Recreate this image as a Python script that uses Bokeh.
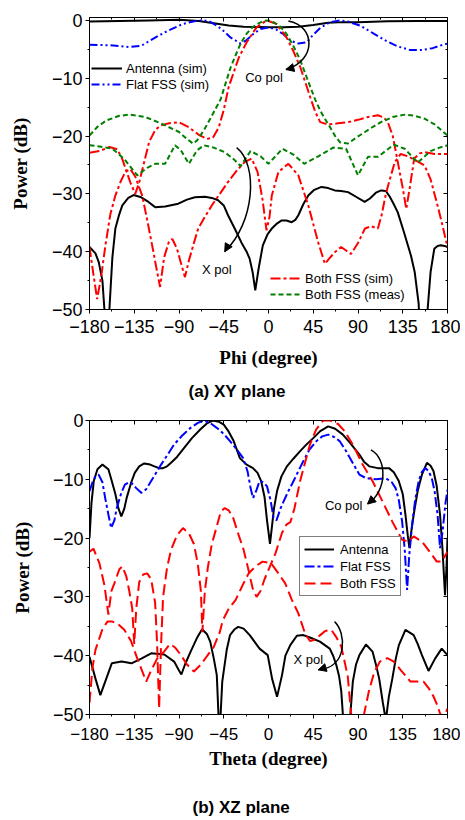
from bokeh.plotting import figure
from bokeh.models import (Range1d, FixedTicker, LinearAxis, Legend, LegendItem,
                          Title, Label, Arrow, NormalHead)
from bokeh.layouts import column
from bokeh.embed import file_html
from bokeh.resources import INLINE

# ---------------- shared ticks ----------------
angle_ticks = [-180, -135, -90, -45, 0, 45, 90, 135, 180]
angle_tick_labels = ["\u2212180", "\u2212135", "\u221290", "\u221245", "0", "45", "90", "135", "180"]
angle_minor = [-157.5, -112.5, -67.5, -22.5, 22.5, 67.5, 112.5, 157.5]
power_ticks = [-50, -40, -30, -20, -10, 0]
power_tick_labels = ["\u221250", "\u221240", "\u221230", "\u221220", "\u221210", "0"]
power_minor = [-45, -35, -25, -15, -5]

# ---------------- (a) XY plane ----------------
phi_ant_co_x = [-180, -150, -120, -90, -70, -55, -40, -25, -10, 0, 15, 30, 45, 60, 75, 90, 120, 150, 180]
phi_ant_co_y = [-0.2, -0.1, 0.0, 0.1, -0.1, -0.5, -0.9, -1.1, -1.15, -1.2, -1.2, -1.1, -0.8, -0.4, -0.3, -0.3, -0.15, -0.1, -0.1]

phi_flat_co_x = [-180, -160, -140, -128, -120, -110, -100, -86, -70, -60, -52, -46, -38, -28, -22, -15, -8, 0, 8, 15,
                 22, 30, 38, 45, 52, 62, 72, 80, 92, 105, 118, 130, 142, 155, 165, 172, 180]
phi_flat_co_y = [-4.2, -4.3, -4.6, -4.4, -3.6, -2.6, -1.7, -0.6, 0.0, -0.1, -0.9, -1.7, -3.0, -4.0, -3.4, -2.3, -1.5, -1.2, -1.6, -2.4,
                 -3.5, -4.0, -3.8, -2.5, -1.3, -0.3, 0.0, -0.2, -0.9, -2.2, -3.5, -4.5, -5.1, -5.1, -4.8, -4.4, -4.0]

phi_both_co_x = [-180, -170, -160, -152, -147, -143, -139, -134, -130, -125, -120, -114, -109, -100, -90, -80, -70, -62, -56, -50,
                 -45, -40, -35, -30, -22, -12, -2, 8, 18, 25, 32, 42, 47, 52, 60, 70, 80, 90, 100, 110,
                 116, 120, 125, 130, 135, 138.5, 142, 146.5, 152, 157, 167, 180]
phi_both_co_y = [-22.9, -22.6, -21.9, -22.3, -24, -26, -28, -30, -28, -24.5, -21, -19, -18.2, -17.8, -17.6, -18.5, -19.8, -20.5, -20.3, -18.5,
                 -15.5, -11.5, -9, -6.5, -3.8, -1.2, 0, -0.6, -2.9, -5.3, -8.1, -13.3, -15.8, -17.6, -18, -17.8, -17.6, -17.2, -16.7, -16.4,
                 -16.8, -17.6, -20, -24.5, -29, -32.6, -29, -23.9, -23, -22.8, -23.1, -23.1]

phi_both_x_x = [-180, -176, -172.3, -168, -164, -159, -154, -149, -144, -139, -134, -127, -122, -117, -112, -109, -105, -100, -96.7, -92,
                -88, -84, -80, -75, -70.7, -64, -57, -49, -41, -32, -24, -17, -11, -6, -2, 1, 3.3, 10, 20, 30,
                40, 50, 56.7, 62, 66.7, 73, 78, 83, 90, 97, 103, 110, 114, 118, 122, 127, 133, 140, 148, 157,
                163, 170, 175, 180]
phi_both_x_y = [-39.2, -44, -48.2, -44, -38.9, -33.5, -30.3, -28, -26.2, -25.7, -27, -30.3, -34.5, -38.9, -43.5, -46.1, -41, -38.2, -37.8, -39.5,
                -42, -44.4, -41.5, -38.5, -36, -34, -32, -30, -28, -26, -24.5, -23.9, -26.2, -31, -36.3, -34, -30.3, -26.2, -24.8, -26.8,
                -32, -38.4, -42.1, -41, -40.1, -39.2, -39.8, -40.4, -38.5, -36, -35.6, -36, -33.5, -30, -27.5, -24.5, -23.1, -23.5, -24.2, -25.1,
                -27.5, -32, -35.5, -39.2]

phi_meas_co_x = [-180, -172, -163, -150, -140, -124, -107, -90, -82, -76, -72, -68, -64, -56, -48, -43, -38, -33, -28, -22,
                 -16, -10, -5, 0, 6, 12, 18, 25, 32, 37, 42, 47, 52, 57, 62, 67, 72, 80, 88, 97,
                 105, 113, 125, 137, 147, 157, 167, 174, 180]
phi_meas_co_y = [-19.9, -18.4, -17.3, -16.5, -16.3, -16.7, -17.9, -19.3, -20.5, -21.3, -20.8, -19.8, -18.7, -16.2, -13.6, -10.8, -8.1, -6, -4, -2.3,
                 -1.15, -0.5, -0.1, 0, -0.4, -1.1, -2.3, -4.4, -6.9, -9.2, -11.5, -13.7, -15.6, -17.1, -18.5, -20, -21.1, -21.3, -20.3, -19.3,
                 -18.4, -17.6, -16.7, -16.3, -16.5, -17, -18, -19, -19.9]

phi_meas_x_x = [-180, -170, -157, -145, -132, -122, -114, -104, -94, -88, -80, -72, -65, -55, -44, -35, -28, -18, -8, 0,
                7, 14, 25, 36, 50, 65, 78, 90, 100, 110, 126, 137, 150, 163, 172, 180]
phi_meas_x_y = [-21.6, -21.8, -22.2, -24, -26.8, -25.5, -24.8, -24.8, -21.6, -22.5, -24.8, -22.5, -21.6, -22, -22.8, -24, -25.2, -22.6, -23.5, -24.8,
                -23.5, -22.2, -23.2, -24.8, -23.5, -22, -22.2, -26.8, -23.6, -23.6, -21.5, -22.2, -24.6, -22.6, -22, -21.6]

phi_ant_x_x = [-180, -174, -170.7, -167, -165, -164, -161, -160, -157, -154, -150, -147, -141, -135.7, -128, -120.7, -114, -104, -90.7, -82,
               -74, -64, -57, -50.7, -45, -40.7, -34, -27.3, -22, -19, -16, -13.3, -10, -5.7, -1, 3.3, 8, 13.3, 18, 23.3,
               27, 30, 35, 40, 46, 53.3, 60, 66.7, 73, 80, 88, 96.7, 102, 108, 113.3, 118, 122, 126, 130, 136,
               143.3, 147, 151, 153, 158, 160, 163, 166.7, 170, 173.3, 177, 180]
phi_ant_x_y = [-39.2, -40.3, -41.8, -45, -50, -58, -58, -50, -41, -36, -33.5, -32, -30.7, -30.2, -30.6, -31.4, -32.3, -32.2, -31.7, -31,
               -30.6, -30.5, -30.7, -31.1, -32, -33.7, -36, -38.4, -40, -41.2, -43.5, -46.7, -43, -38.9, -37, -36, -35.2, -34.6, -34.6, -34.9,
               -34.5, -33.7, -31.8, -30.3, -29.3, -28.8, -29, -29.4, -29.5, -29.7, -30.5, -31.4, -30.8, -29.8, -29.4, -29.5, -30.5, -31.8, -33.2, -36.5,
               -40.7, -43.5, -49, -58, -58, -50, -43.5, -39.5, -39, -38.9, -39, -39.2]

# ---------------- (b) XZ plane ----------------
th_ant_co_x = [-180, -178, -175.7, -172, -167, -161, -157.6, -154, -151, -148, -145, -142.7, -138, -134.5, -130, -125, -119, -114.7, -110, -106,
               -102, -98, -92, -85, -77, -68.4, -62, -56, -50, -45, -40, -35, -28.8, -22, -15.6, -11, -7.4, -4, -1.5, 1.5,
               3.5, 5.5, 8.6, 13, 18.5, 25, 31.8, 38, 45, 52, 60, 67, 74.8, 82, 91.4, 96, 101.3, 110, 121.2, 126,
               131, 135, 137.7, 140, 141.7, 143.5, 146, 150, 154.3, 159.3, 163, 165.9, 169, 172.5, 175, 177.5, 179, 180]
th_ant_co_y = [-20, -14, -10.3, -8.3, -7.5, -8.3, -10.3, -12.5, -14.9, -16.3, -15, -13.2, -10.5, -8.9, -7.8, -7.3, -7.5, -7.8, -8.1, -8.1,
               -7.8, -7.2, -6.2, -4.7, -3, -1.5, -0.5, 0, -0.2, -0.7, -1.9, -3.5, -6.4, -7.5, -8.1, -8.9, -10.3, -13, -17, -21,
               -18, -15, -12, -9.5, -7.8, -6.5, -5.2, -4.1, -3, -1.8, -1, -1.4, -2.4, -3.8, -5.8, -7, -7.8, -8.1, -8.1, -8.8,
               -10.3, -12.5, -16, -19.5, -21.7, -19, -16, -12, -9.2, -7.2, -7.7, -8.6, -11, -16, -22, -29.7, -25, -20]

th_flat_co_x = [-180, -177, -174, -170.8, -167, -164.2, -161, -158.2, -155, -152.6, -148, -144.4, -140, -137.8, -133, -128, -123, -118, -113, -108,
                -101, -95, -87, -78.3, -71, -65, -58, -52, -45, -38.7, -32, -25.5, -21, -18, -15.6, -12, -9, -5, -1.5, 2,
                5, 8, 12, 15.2, 20, 25.2, 30, 35.1, 41, 48.3, 54, 60, 66, 71.5, 78, 85, 91.4, 98, 108, 117.9,
                124, 127.8, 131, 134.4, 137, 139.4, 141.5, 144.4, 147.5, 151, 154, 157.6, 161, 164.2, 167, 170, 172.5, 175, 178, 180]
th_flat_co_y = [-12, -10.5, -9.5, -9.2, -10.5, -13.2, -16, -18.3, -17, -14.9, -12.3, -10.9, -10.5, -10.6, -11.5, -12.3, -11.7, -10.3, -8.9, -7.5,
                -5.7, -4.1, -2.6, -1.25, -0.4, 0, -0.5, -1.25, -2.3, -3.5, -4.9, -6.4, -8.7, -11.5, -13.2, -11.8, -10.3, -10.5, -11.2, -13.5,
                -16.5, -17, -15, -13.75, -12, -10.3, -8.6, -6.9, -5, -3.5, -2.7, -2.4, -2.8, -3.5, -5.2, -7.3, -9.2, -9.8, -10, -9.8,
                -10.5, -11.5, -13.5, -17.2, -22, -28.8, -23, -17.7, -13.5, -10.3, -8.8, -8.1, -8.6, -9.8, -12, -16, -21.7, -19, -14, -11.8]

th_both_co_x = [-180, -176, -170, -165, -161, -158, -155, -150, -147, -143, -140, -137, -135, -133, -130, -126, -122, -118, -114, -112,
                -110, -108, -106, -102, -98, -92, -86, -80, -75, -71, -68, -66.5, -64, -61, -57, -52, -48, -44, -40, -36,
                -30, -25, -20, -16, -12, -8, -4, 0, 7, 13.6, 18, 22, 26, 31.8, 37, 41.7, 48, 55, 62, 70,
                76.5, 84.8, 94.7, 104.6, 114.6, 124.5, 134.4, 141, 146, 154.3, 164.2, 169.2, 174.2, 180]
th_both_co_y = [-22.3, -21.8, -24.3, -28, -33, -29, -27.7, -25.3, -24.8, -26.5, -29, -32, -38, -32, -27.5, -26.2, -26, -27, -31, -38,
                -49, -38, -30, -25, -22, -19.5, -18.3, -19.2, -21, -24.5, -29, -36, -29, -25, -21, -18, -15.5, -14.9, -15.3, -16.3,
                -19.5, -22, -25.5, -28.5, -30, -29, -27, -25.4, -22.6, -19.1, -17.7, -17.3, -15, -10.3, -7, -4.1, -1.5, 0, 0, -0.6,
                -1.8, -4.1, -7.5, -10.3, -13.75, -17.2, -20.3, -20.6, -19.7, -20.6, -22.8, -24, -24, -22.3]

th_both_x_x = [-180, -177, -174, -171.8, -167, -162, -157, -152, -145, -138, -133, -128, -123, -118, -112, -105, -99, -94, -88, -82,
               -75, -68, -62, -55, -49, -46, -40, -33, -26, -20, -13, -6, 0, 3.6, 10, 16.8, 23.5, 30, 36.7, 41.7,
               46.6, 52, 57, 63.2, 68, 73.1, 76.5, 79.7, 83, 86, 93, 96, 101, 106, 112, 119.5, 126, 132.8, 142.7, 150,
               155.9, 161, 165.8, 170, 172.4, 176, 180]
th_both_x_y = [-48, -42, -39, -37.9, -35.5, -34.2, -34.2, -34.5, -35.6, -37.6, -40, -42.2, -44.4, -42.5, -40.5, -39.3, -38, -38.6, -39.9, -41.5,
               -42.7, -41.5, -40.1, -38.5, -36, -34, -32, -30.5, -28, -26, -24.8, -24, -24.2, -24.5, -26, -27.7, -30.5, -32.8, -36.2, -37.5,
               -37.3, -36.5, -35.8, -35.6, -36.8, -38.4, -41, -43.5, -49.7, -53, -53, -50, -46, -43, -41, -40.4, -41, -42.4, -44.4, -44.4,
               -44.4, -45.5, -46.9, -48.5, -49.8, -50.5, -49]

th_ant_x_x = [-180, -174, -169.1, -164.2, -157.6, -147.7, -137.8, -127.9, -118, -104.8, -94.9, -90, -87.6, -84, -78.3, -72, -66.8, -62, -58.6, -55,
              -52, -49.3, -46.5, -42, -38.7, -34, -30.5, -25, -18.9, -9, -0.8, 3.6, 8.6, 13.6, 17, 21.9, 28.5, 35, 41.7, 51.7,
              61.6, 65, 68.2, 71, 73.2, 76, 81, 84.8, 88, 91.4, 98, 104.6, 108, 111.3, 115, 118, 121, 124.5, 128, 131.1,
              137.7, 146, 150, 154.3, 160.9, 167.5, 174.2, 180]
th_ant_x_y = [-40.2, -43.9, -46.7, -44.4, -41.3, -41, -41.3, -40.5, -39.6, -39.8, -41, -42.5, -43.2, -41.5, -39.3, -37, -35.5, -36.3, -37.6, -40.5,
              -43.3, -54, -44.4, -39, -36.5, -35.5, -35.1, -35.4, -36.5, -38.8, -39.9, -43.9, -47, -43.3, -40, -38.2, -36.6, -36.5, -36.9, -37.6,
              -38.8, -40, -41.6, -43.5, -46.1, -53, -53, -44.4, -41.5, -39.9, -38.1, -39.3, -41.5, -43.9, -48, -51, -47, -43.9, -40.5, -38.2,
              -35.6, -36.5, -38, -39.9, -42.6, -40.5, -38.8, -39.9]

BLACK, BLUE, RED, GREEN = "#000000", "#0000ff", "#ff0000", "#008000"
SANS = "Liberation Sans"


def style_axis(ax, fs, standoff, label_standoff):
    ax.axis_line_color = "black"
    ax.major_tick_line_color = "black"
    ax.minor_tick_line_color = "black"
    ax.major_tick_in = 0
    ax.major_tick_out = 4
    ax.minor_tick_in = 0
    ax.minor_tick_out = 2
    ax.major_label_text_font = SANS
    ax.major_label_text_font_size = fs
    ax.major_label_text_color = "black"
    ax.major_label_standoff = standoff
    ax.axis_label_text_font = "Liberation Serif"
    ax.axis_label_text_font_style = "bold"
    ax.axis_label_text_font_size = "19px"
    ax.axis_label_text_color = "black"
    ax.axis_label_standoff = label_standoff


def blank_axis(ticker, ticks, tick_in, tick_out, visible=True):
    ax = LinearAxis(ticker=ticker)
    ax.major_tick_in = tick_in
    ax.major_tick_out = tick_out
    ax.minor_tick_in = tick_in // 2
    ax.minor_tick_out = 0
    ax.major_label_text_font_size = "0px"
    ax.major_label_standoff = 0
    ax.major_label_overrides = {t: "" for t in ticks}
    ax.axis_line_color = None
    ax.major_tick_line_color = "black" if visible else None
    ax.minor_tick_line_color = "black" if visible else None
    return ax


def make_fig(height, left, right, top, bottom, y_end, xlabel, xfs, xstand, xlstand, ystand, ylstand):
    p = figure(width=460, height=height, x_range=Range1d(-180, 180), y_range=Range1d(-50, y_end),
               output_backend="svg", toolbar_location=None,
               min_border_left=left, min_border_right=right, min_border_top=top, min_border_bottom=bottom)
    p.grid.visible = False
    p.outline_line_color = "black"
    p.outline_line_width = 1
    p.background_fill_color = "white"
    p.border_fill_color = "white"
    xt = FixedTicker(ticks=angle_ticks, minor_ticks=angle_minor)
    yt = FixedTicker(ticks=power_ticks, minor_ticks=power_minor)
    p.xaxis.ticker = xt
    p.yaxis.ticker = yt
    p.xaxis.major_label_overrides = dict(zip(angle_ticks, angle_tick_labels))
    p.yaxis.major_label_overrides = dict(zip(power_ticks, power_tick_labels))
    p.xaxis.axis_label = xlabel
    p.yaxis.axis_label = "Power (dB)"
    style_axis(p.xaxis[0], xfs, xstand, xlstand)
    style_axis(p.yaxis[0], "18px", ystand, ylstand)
    p.add_layout(blank_axis(xt, angle_ticks, 4, 0), "above")
    p.add_layout(blank_axis(yt, power_ticks, 4, 0), "right")
    return p


def curved_arrow(p, x0, y0, cx0, cy0, cx1, cy1, x1, y1, hx, hy):
    p.bezier(x0=[x0], y0=[y0], x1=[x1], y1=[y1], cx0=[cx0], cy0=[cy0], cx1=[cx1], cy1=[cy1],
             line_color="black", line_width=1.5)
    p.add_layout(Arrow(end=NormalHead(size=8, fill_color="black", line_color="black"),
                       x_start=hx, y_start=hy, x_end=x1, y_end=y1, line_alpha=0))


def text(p, x, y, s):
    p.add_layout(Label(x=x, y=y, text=s, text_font=SANS, text_font_size="13px",
                       text_color="black", text_align="center", text_baseline="middle"))


# ---------------- figure (a) ----------------
p1 = make_fig(409, 89, 13, 17, 100, 0.5, "Phi (degree)", "18px", 6, 11, 3, 18)
r_a1 = p1.line(phi_ant_co_x, phi_ant_co_y, line_color=BLACK, line_width=2)
p1.line(phi_ant_x_x, phi_ant_x_y, line_color=BLACK, line_width=2)
r_a2 = p1.line(phi_flat_co_x, phi_flat_co_y, line_color=BLUE, line_width=2, line_dash="8 3 2 3 2 3")
r_a3 = p1.line(phi_both_co_x, phi_both_co_y, line_color=RED, line_width=2, line_dash="10 3 3 3")
p1.line(phi_both_x_x, phi_both_x_y, line_color=RED, line_width=2, line_dash="10 3 3 3")
r_a4 = p1.line(phi_meas_co_x, phi_meas_co_y, line_color=GREEN, line_width=2, line_dash="5 3")
p1.line(phi_meas_x_x, phi_meas_x_y, line_color=GREEN, line_width=2, line_dash="5 3")

leg_kw = dict(border_line_color=None, background_fill_alpha=0, label_text_font=SANS,
              label_text_font_size="13px", label_text_color="black", glyph_width=31, glyph_height=16,
              label_height=16, spacing=0, padding=0, margin=0, label_standoff=4)
p1.add_layout(Legend(items=[LegendItem(label="Antenna (sim)", renderers=[r_a1]),
                            LegendItem(label="Flat FSS (sim)", renderers=[r_a2])],
                     location=(2, 217), **leg_kw))
p1.add_layout(Legend(items=[LegendItem(label="Both FSS (sim)", renderers=[r_a3]),
                            LegendItem(label="Both FSS (meas)", renderers=[r_a4])],
                     location=(181, 7), **leg_kw))

text(p1, -4.5, -9.9, "Co pol")
curved_arrow(p1, 20, -0.1, 48, -1, 48, -7, 17.5, -8.5, 22, -8.3)
text(p1, -52, -43, "X pol")
curved_arrow(p1, -32, -22, -10, -25, -14, -35, -44, -40, -40, -38.8)

p1.add_layout(Title(text="(a) XY plane", align="left", offset=99, standoff=18,
                    text_font=SANS, text_font_size="17px", text_font_style="bold",
                    text_color="black"), "below")

# ---------------- figure (b) ----------------
p2 = make_fig(411, 85, 12, 11, 106, 0, "Theta (degree)", "17px", 9, 5, 2, 17)
r_b1 = p2.line(th_ant_co_x, th_ant_co_y, line_color=BLACK, line_width=2)
p2.line(th_ant_x_x, th_ant_x_y, line_color=BLACK, line_width=2)
r_b2 = p2.line(th_flat_co_x, th_flat_co_y, line_color=BLUE, line_width=2, line_dash="10 3 3 3")
r_b3 = p2.line(th_both_co_x, th_both_co_y, line_color=RED, line_width=2, line_dash="11 5")
p2.line(th_both_x_x, th_both_x_y, line_color=RED, line_width=2, line_dash="11 5")

p2.add_layout(Legend(items=[LegendItem(label="Antenna", renderers=[r_b1]),
                            LegendItem(label="Flat FSS", renderers=[r_b2]),
                            LegendItem(label="Both FSS", renderers=[r_b3])],
                     location=(210, 118), border_line_color="black", border_line_width=1,
                     background_fill_color="white", background_fill_alpha=1,
                     label_text_font=SANS, label_text_font_size="13px", label_text_color="black",
                     glyph_width=30, glyph_height=16, label_height=16, spacing=1, padding=4,
                     margin=0, label_standoff=6))

text(p2, 75.6, -14.5, "Co pol")
curved_arrow(p2, 103, -5, 119.6, -6.5, 119.6, -12, 99.6, -14.2, 103, -13.7)
text(p2, 40.1, -40.7, "X pol")
curved_arrow(p2, 66.4, -34.2, 78, -36, 80.5, -42, 50, -42.4, 54, -42.2)

# invisible spacer between the axis label and the caption
p2.add_layout(blank_axis(p2.xaxis[0].ticker, angle_ticks, 0, 24, visible=False), "below")
p2.add_layout(Title(text="(b) XZ plane", align="left", offset=103, standoff=0,
                    text_font=SANS, text_font_size="17px", text_font_style="bold",
                    text_color="black"), "below")

layout = column(p1, p2)
open("out.html", "w").write(file_html(layout, INLINE))
